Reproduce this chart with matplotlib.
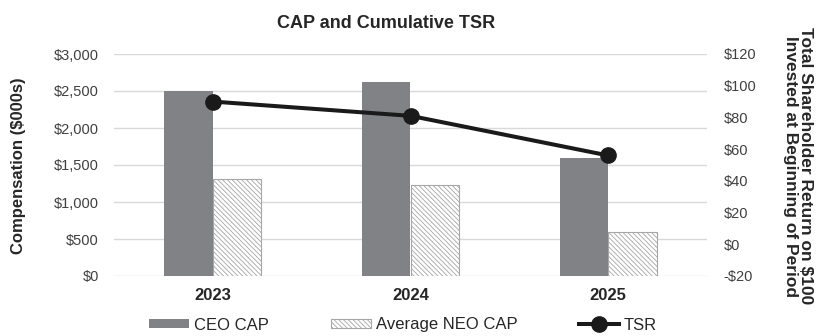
import numpy as np
import matplotlib
matplotlib.use('Agg')
import matplotlib.pyplot as plt

plt.rcParams['font.family'] = ['Liberation Sans', 'DejaVu Sans']
plt.rcParams['hatch.linewidth'] = 0.6
plt.rcParams['hatch.color'] = '#8c8c8c'

years = ['2023', '2024', '2025']
ceo_cap = [2500, 2620, 1600]
neo_cap = [1315, 1230, 590]
tsr = [90, 81, 56]

text_col = '#262626'
fig = plt.figure(figsize=(8.17, 3.36), dpi=100)
ax = fig.add_axes([114 / 817, 1 - 276 / 336, 593 / 817, 222 / 336])

x = np.arange(len(years))
w = 0.245
b1 = ax.bar(x - w / 2, ceo_cap, w, color='#808285', label='CEO CAP', zorder=2)
b2 = ax.bar(x + w / 2, neo_cap, w, color='white', edgecolor='#a6a6a6',
            hatch='\\' * 7, linewidth=0.8, label='Average NEO CAP', zorder=2)

ax.set_xlim(-0.5, 2.5)
ax.set_ylim(0, 3000)
ax.set_yticks(np.arange(0, 3001, 500))
ax.set_yticklabels(['${:,}'.format(v) for v in range(0, 3001, 500)])
ax.grid(axis='y', color='#d9d9d9', linewidth=1, zorder=0)
ax.set_axisbelow(True)
for s in ax.spines.values():
    s.set_visible(False)
ax.tick_params(axis='both', length=0, labelsize=10.5, labelcolor='#404040')
ax.set_xticks(x)
ax.set_xticklabels(years, fontsize=12, fontweight='bold', color=text_col)
ax.tick_params(axis='x', pad=9)
ax.tick_params(axis='y', pad=11)

ax2 = ax.twinx()
ln, = ax2.plot(x, tsr, color='#1a1a1a', linewidth=2.9, marker='o',
               markersize=11, label='TSR', zorder=5)
ax2.set_ylim(-20, 120)
ax2.set_yticks(np.arange(-20, 121, 20))
ax2.set_yticklabels([('-$' + str(-v)) if v < 0 else '$' + str(v) for v in range(-20, 121, 20)])
for s in ax2.spines.values():
    s.set_visible(False)
ax2.tick_params(axis='y', length=0, labelsize=10.5, labelcolor='#404040', pad=12)

fig.text(386 / 817, 1 - 23.5 / 336, 'CAP and Cumulative TSR', ha='center', va='center',
         fontsize=13, fontweight='bold', color=text_col)
fig.text(19 / 817, 1 - 166 / 336, 'Compensation ($000s)', rotation=90, ha='center',
         va='center', fontsize=12, fontweight='bold', color=text_col)
fig.text(798 / 817, 1 - 166 / 336, 'Total Shareholder Return on $100\nInvested at Beginning of Period',
         rotation=270, ha='center', va='center', fontsize=12.5, fontweight='bold',
         color=text_col, linespacing=0.95)

fig.legend([b1, b2, ln], ['CEO CAP', 'Average NEO CAP', 'TSR'], loc='center',
           bbox_to_anchor=(403 / 817, 1 - 325 / 336), ncol=3, frameon=False,
           fontsize=12, handlelength=2.4, handleheight=0.4, handletextpad=0.3,
           columnspacing=3.7, labelcolor=text_col)

fig.savefig('out.png', dpi=100)
